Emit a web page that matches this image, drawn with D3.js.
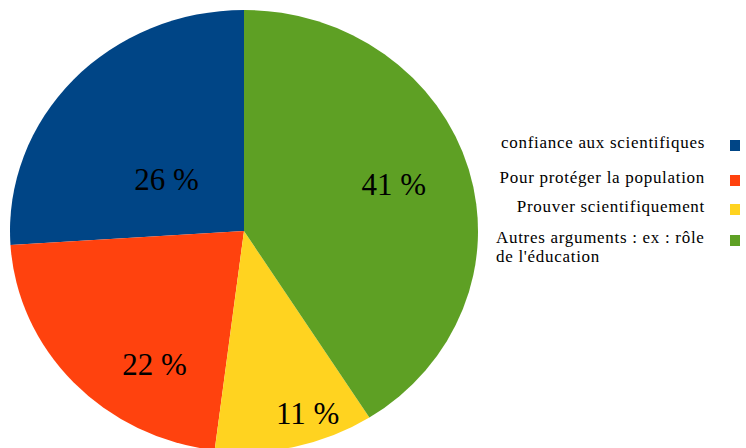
<!DOCTYPE html>
<html>
<head>
<meta charset="utf-8">
<script src="https://cdn.jsdelivr.net/npm/d3@7"></script>
<style>
  body { margin: 0; background: #fff; }
  svg { display: block; }
</style>
</head>
<body>
<script>
// data
const categories = ['confiance aux scientifiques', 'Pour protéger la population',
    'Prouver scientifiquement', 'Autres arguments : ex : rôle\nde l\'éducation'];
const shares = [26, 22, 11, 41];
const colors = ['#004586', '#ff420e', '#ffd320', '#5ea024'];

// layout
const W = 746, H = 448;
const cx = 244, cy = 231, rx = 234, ry = 221;
const SERIF = '"Liberation Serif"';
// label nudges from the 0.6 radius centroid (px)
const labelOffset = [[25, 40], [13, 43], [33, 53], [15, -9]];

const svg = d3.select('body').append('svg')
    .attr('width', W)
    .attr('height', H);

// pie runs anticlockwise from the top, in data order
const pie = d3.pie().sort(null).startAngle(0).endAngle(-2 * Math.PI);
const arcs = pie(shares);
const arc = d3.arc().innerRadius(0).outerRadius(rx);

const g = svg.append('g')
    .attr('transform', `translate(${cx},${cy}) scale(1,${ry / rx})`);

g.selectAll('path').data(arcs).enter()
    .append('path')
    .attr('d', arc)
    .attr('fill', (d, i) => colors[i]);

const labelArc = d3.arc().innerRadius(rx * 0.6).outerRadius(rx * 0.6);
svg.append('g').selectAll('text').data(arcs).enter()
    .append('text')
    .style('font-family', SERIF)
    .style('font-size', '31px')
    .attr('x', (d, i) => cx + labelArc.centroid(d)[0] + labelOffset[i][0])
    .attr('y', (d, i) => cy + labelArc.centroid(d)[1] * ry / rx + labelOffset[i][1])
    .attr('dy', '0.33em')
    .attr('text-anchor', 'middle')
    .attr('fill', '#000')
    .text(d => `${d.data} %`);

// legend
const legendY = [148, 183, 212, 243];
const legend = svg.append('g');

categories.forEach((name, i) => {
    const lines = name.split('\n');
    const multi = lines.length > 1;
    const t = legend.append('text')
        .style('font-family', SERIF)
        .style('font-size', '17px')
        .style('letter-spacing', '0.7px')
        .attr('fill', '#000')
        .attr('y', legendY[i])
        .attr('text-anchor', multi ? 'start' : 'end');
    lines.forEach((line, j) => {
        t.append('tspan')
            .attr('x', multi ? 496 : 705)
            .attr('dy', j === 0 ? 0 : 19)
            .text(line);
    });
    legend.append('rect')
        .attr('x', 730)
        .attr('y', legendY[i] - 8)
        .attr('width', 10)
        .attr('height', 11)
        .attr('fill', colors[i]);
});
</script>
</body>
</html>
